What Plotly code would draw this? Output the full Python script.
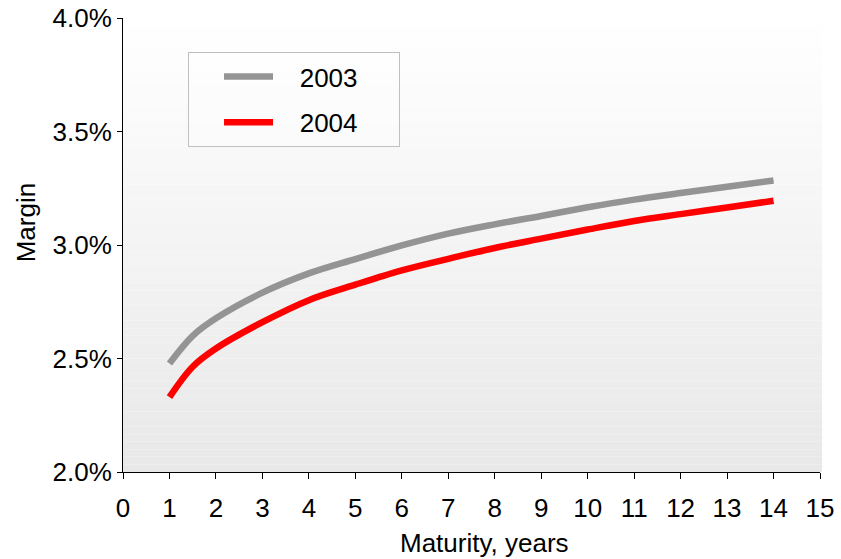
import plotly.graph_objects as go

maturity = [1, 1.5, 2, 3, 4, 5, 6, 7, 8, 9, 10, 11, 12, 13, 14]
margin_2003 = [2.478, 2.60, 2.677, 2.790, 2.875, 2.938, 2.998, 3.050, 3.091, 3.128, 3.166, 3.200, 3.229, 3.257, 3.284]
margin_2004 = [2.330, 2.464, 2.544, 2.660, 2.757, 2.825, 2.888, 2.939, 2.987, 3.028, 3.068, 3.106, 3.136, 3.165, 3.195]
series_names = ["2003", "2004"]
x_ticks = list(range(0, 16))
y_ticks = [2.0, 2.5, 3.0, 3.5, 4.0]
y_ticklabels = ["2.0%", "2.5%", "3.0%", "3.5%", "4.0%"]

FONT = "Liberation Sans, Arial, sans-serif"
NB = "&nbsp;"


def legend_label(s):
    return NB * 3 + s + NB * 5


fig = go.Figure()
fig.add_trace(go.Scatter(x=maturity, y=margin_2003, mode="lines",
                         name=legend_label(series_names[0]),
                         line=dict(color="#949494", width=6.5, shape="spline"),
                         legendgroup="a"))
fig.add_trace(go.Scatter(x=maturity, y=margin_2004, mode="lines",
                         name=legend_label(series_names[1]),
                         line=dict(color="#ff0000", width=6.5, shape="spline"),
                         legendgroup="b"))

# vertical gradient background of plot area
n = 60
shapes = []
for i in range(n):
    t = (i + 0.5) / n  # 0 at bottom, 1 at top
    v = round(232 + (255 - 232) * t)
    shapes.append(dict(type="rect", xref="paper", yref="paper", x0=0, x1=1.003,
                       y0=i / n, y1=(i + 1) / n, fillcolor=f"rgb({v},{v},{v})",
                       line=dict(width=0), layer="below"))

fig.update_layout(
    width=841, height=559,
    margin=dict(l=123, r=21, t=18, b=87),
    paper_bgcolor="white",
    plot_bgcolor="rgba(0,0,0,0)",
    shapes=shapes,
    font=dict(family=FONT, size=26, color="black"),
    showlegend=True,
    legend=dict(x=0.0933, y=0.925, xanchor="left", yanchor="top",
                bgcolor="rgba(255,255,255,0.4)", bordercolor="#c0c0c0", borderwidth=1,
                font=dict(family=FONT, size=26), itemwidth=49, tracegroupgap=9,
                indentation=30),
    xaxis=dict(range=[0, 15], tickvals=x_ticks, ticks="outside", ticklen=6,
               tickcolor="black", showline=True, linecolor="black", linewidth=1,
               showgrid=False, zeroline=False, tickfont=dict(size=26),
               ticklabelstandoff=7, automargin=False, ticklabeloverflow="allow"),
    yaxis=dict(range=[2.0, 4.0], tickvals=y_ticks, ticktext=y_ticklabels,
               ticks="outside", ticklen=5, tickcolor="black", showline=True,
               linecolor="black", linewidth=1, showgrid=False, zeroline=False,
               tickfont=dict(size=26), automargin=False, ticklabeloverflow="allow"),
    annotations=[
        dict(text="Maturity, years", xref="paper", yref="paper",
             x=0.519, y=-0.157, xanchor="center", yanchor="middle",
             showarrow=False, font=dict(size=26)),
        dict(text="Margin", xref="paper", yref="paper", textangle=-90,
             x=-0.139, y=0.548, xanchor="center", yanchor="middle",
             showarrow=False, font=dict(size=26)),
    ],
)

fig.write_html("out.html",
               config={"displayModeBar": False},
               post_script="document.body.style.margin='0';document.body.style.overflow='hidden';")
